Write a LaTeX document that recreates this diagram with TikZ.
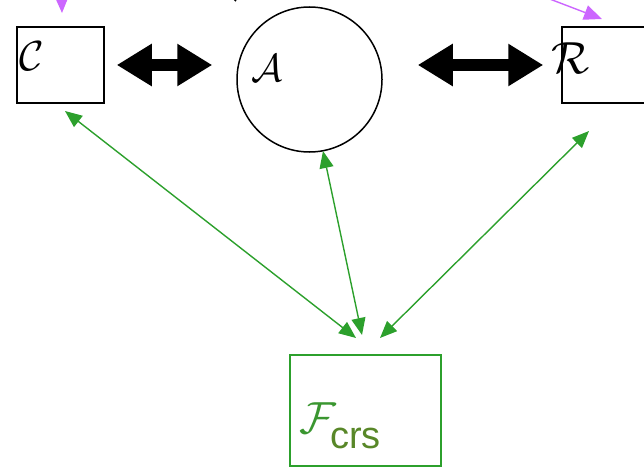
\documentclass[tikz,border=0pt]{standalone}
\usepackage{graphicx}
\usepackage{fontspec}
\newfontfamily\sansf{Liberation Sans}
\usetikzlibrary{arrows.meta}
\definecolor{linkgreen}{RGB}{44,160,44}
\definecolor{fgreen}{RGB}{58,150,48}
\definecolor{crsgreen}{RGB}{88,135,40}
\definecolor{msgpurple}{RGB}{204,102,255}
\tikzset{
  partybox/.style={draw=black, line width=1.5pt, minimum width=87pt, minimum height=76pt, inner sep=0pt},
  advcircle/.style={draw=black, line width=1.5pt, circle, minimum size=145pt, inner sep=0pt},
  funcbox/.style={draw=linkgreen, line width=1.3pt, minimum width=151pt, minimum height=111pt, inner sep=0pt},
  lab/.style={inner sep=0pt},
  bigarrow/.style={line width=12pt, arrows={Triangle[length=35pt,width=40pt]-Triangle[length=35pt,width=40pt]}},
  greenlink/.style={draw=linkgreen, line width=1.4pt, arrows={Triangle[length=17pt,width=14pt]-Triangle[length=17pt,width=14pt]}},
  purplemsg/.style={draw=msgpurple, line width=1.4pt, arrows={-Triangle[length=18pt,width=15pt]}}
}
\begin{document}
\begin{tikzpicture}[x=1pt, y=-1pt]
\useasboundingbox (0,0) rectangle (644,468);
\clip (0,0) rectangle (644,468);

% parties and the adversary
\node[partybox] (C) at (60.5,65) {};
\node[advcircle] (A) at (309.5,79.5) {};
\node[partybox] (R) at (605.5,65) {};
\node[funcbox] (F) at (365.5,410.5) {};

% labels
\node[lab] (Clab) at (32,56) {\scalebox{4.2}{$\mathcal{C}$}};
\node[lab] (Alab) at (267,68) {\scalebox{3.9}{$\mathcal{A}$}};
\node[lab] (Rlab) at (571,58) {\scalebox{4.5}{$\mathcal{R}$}};
\node[lab] (Flab) at (318,418) {\scalebox{4.5}{\color{fgreen}$\mathcal{F}$}};
\node[lab, anchor=base west, text=crsgreen] (crs) at (330,448) {\sansf\fontsize{38}{40}\selectfont crs};

% thick channels between the parties and the adversary
\draw[bigarrow, shorten <=12pt, shorten >=24pt] (C.east) -- (C.east -| A.west);
\draw[bigarrow, shorten <=35pt, shorten >=18pt] (R.west -| A.east) -- (R.west);

% links to the functionality
\coordinate (cTop) at (65,111);
\coordinate (cBot) at (356,338);
\coordinate (aTop) at (323,151);
\coordinate (aBot) at (362,335);
\coordinate (rTop) at (589,131);
\coordinate (rBot) at (380,338);
\draw[greenlink] (cTop) -- (cBot);
\draw[greenlink] (aTop) -- (aBot);
\draw[greenlink] (rTop) -- (rBot);

% incoming messages from above
\coordinate (pcStart) at (61,-40);
\coordinate (pcEnd) at (62,13);
\coordinate (prStart) at (500,-20);
\coordinate (prEnd) at (602,19);
\draw[purplemsg] (pcStart) -- (pcEnd);
\draw[purplemsg] (prStart) -- (prEnd);
\coordinate (bkStart) at (226,-8);
\coordinate (bkEnd) at (236,1);
\draw[line width=1.5pt] (bkStart) -- (bkEnd);
\end{tikzpicture}
\end{document}
